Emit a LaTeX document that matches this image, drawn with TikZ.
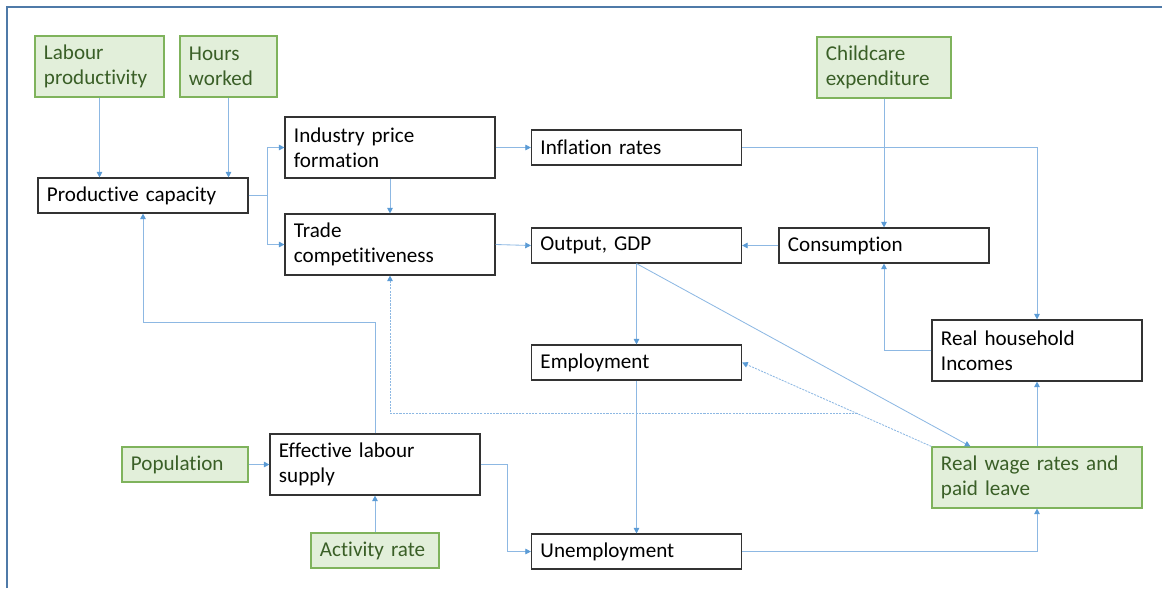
\documentclass[tikz,border=0pt]{standalone}
\usepackage{fontspec}
\setmainfont{Carlito}[Ligatures=CommonOff]
\usepackage{tikz}
\usetikzlibrary{calc}
\usetikzlibrary{arrows.meta}
\definecolor{lnblue}{HTML}{8DB8E3}
\definecolor{tipblue}{HTML}{5B9BD5}
\definecolor{gfill}{HTML}{E2EFDA}
\definecolor{gline}{HTML}{7FB35C}
\definecolor{gtext}{HTML}{3A5F27}
\definecolor{frameblue}{HTML}{4F7AA8}

\begin{document}
\begin{tikzpicture}[x=0.025cm,y=-0.025cm,
    every node/.style={font=\fontsize{15}{18}\selectfont,inner xsep=0.225cm,inner ysep=0pt,align=left,text width=4.8cm,minimum height=0.875cm},
    blk/.style={draw=black!80,line width=0.8pt},
    grn/.style={draw=gline,fill=gfill,text=gtext,line width=0.8pt},
    tall/.style={minimum height=1.525cm},
    arr/.style={draw=lnblue,line width=0.6pt,-{Triangle[length=4pt,width=4pt,color=tipblue]}},
    darr/.style={arr,dash pattern=on 1.5pt off 0.8pt}]
    \useasboundingbox (0,0) rectangle (1162,588);
    \draw[frameblue,line width=1pt] (7,588) -- (7,7) -- (1162,7);

    % inputs
    \node[grn,tall,text width=2.775cm](lp) at (99.5,66.5) {Labour\\productivity};
    \node[grn,tall,text width=1.975cm](hw) at (228.5,66.5) {Hours\\worked};
    \node[grn,tall,text width=2.9cm](cc) at (884,67.5) {Childcare\\expenditure};
    \node[grn,text width=2.7cm](pop) at (185,464.5) {Population};
    \node[grn,text width=2.75cm](act) at (375,550.5) {Activity rate};
    \node[grn,tall](rw) at (1037,477.5) {Real wage rates and\\paid leave};

    \node[blk](pc) at (143,195.5) {Productive capacity};
    \node[blk,tall](ipf) at (390,147.5) {Industry price\\formation};
    \node[blk,tall](tc) at (390,244.5) {Trade\\competitiveness};
    \node[blk](inf) at (636.5,147.5) {Inflation rates};
    \node[blk](gdp) at (636.5,245.5) {Output, GDP};
    \node[blk](cons) at (884,245.5) {Consumption};
    \node[blk,tall](rhi) at (1037,350.5) {Real household\\Incomes};
    \node[blk](emp) at (636.5,362.5) {Employment};
    \node[blk,tall](els) at (375,464.5) {Effective labour\\supply};
    \node[blk](unemp) at (636.5,551.5) {Unemployment};

    \draw[arr] (lp.south) -- (lp.south |- pc.north);
    \draw[arr] (hw.south) -- (hw.south |- pc.north);
    \draw[arr] (pc.east) -- ++(19,0) |- (ipf.west);
    \draw[arr] (pc.east) -- ++(19,0) |- (tc.west);
    \draw[arr] (ipf.south) -- (tc.north);
    \draw[arr] (ipf.east) -- (inf.west);
    \draw[arr] (tc.east) -- (gdp.west);
    \draw[arr] (cons.west) -- (gdp.east);
    \draw[arr] (inf.east) -| (rhi.north);
    \draw[arr] (cc.south) -- (cons.north);
    \draw[arr] (rhi.west) -| (cons.south);
    \draw[arr] (gdp.south) -- (emp.north);
    \draw[arr] (emp.south) -- (unemp.north);
    \draw[arr] (gdp.south) -- ($(rw.north west)+(39,0)$);
    \draw[arr] (unemp.east) -| (rw.south);
    \draw[arr] (rw.north) -- (rhi.south);
    \draw[arr] (pop.east) -- (els.west);
    \draw[arr] (act.north) -- (els.south);
    \draw[arr] (els.north) -- ++(0,-111) -| (pc.south);
    \draw[arr] (els.east) -- ++(27,0) |- (unemp.west);

    % dotted links from wages
    \coordinate (dj) at ($(rw.north west)!0.39!(emp.east)$);
    \draw[darr] (rw.north west) -- (emp.east);
    \draw[darr] (dj) -- (dj -| tc.south) -- (tc.south);
\end{tikzpicture}
\end{document}
